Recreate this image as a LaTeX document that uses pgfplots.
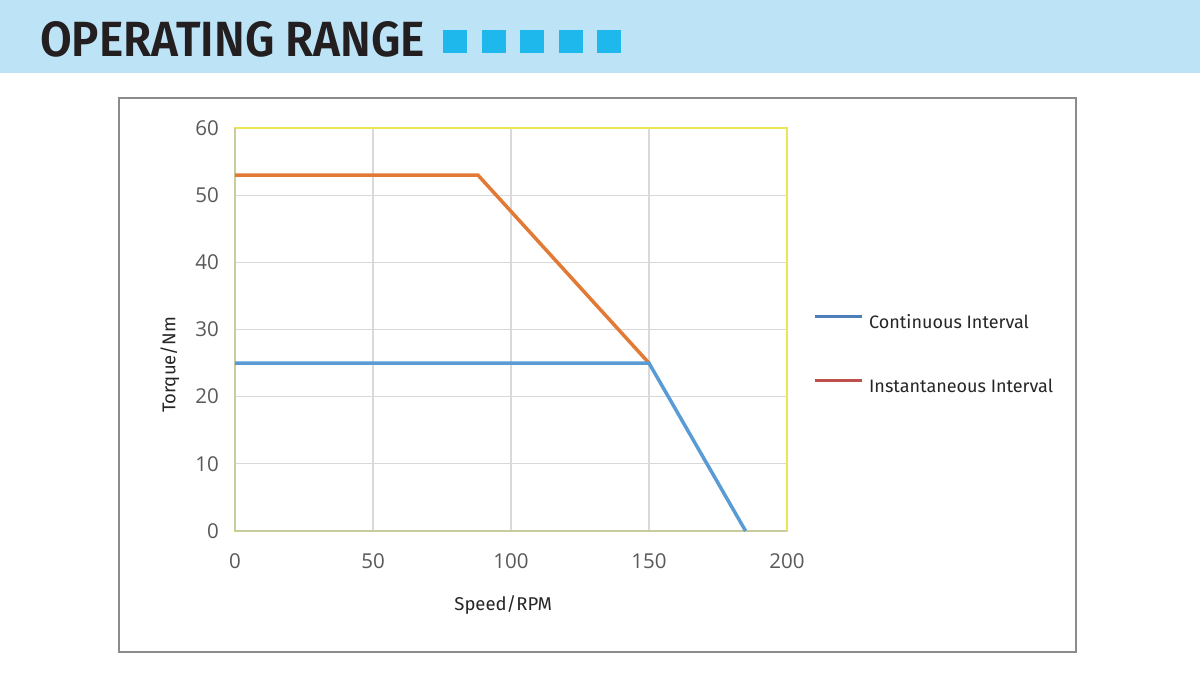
\documentclass[border=0pt]{standalone}
\usepackage{fontspec}
\setmainfont{Fira Sans}
\newfontfamily\tickfont{Open Sans}
\newfontfamily\titlefont{Fira Sans}[UprightFont={* SemiBold}]
\usepackage{pgfplots}
\pgfplotsset{compat=1.18}
\definecolor{banner}{HTML}{BDE3F7}
\definecolor{sq}{HTML}{1FB8EC}
\definecolor{titlecol}{HTML}{231F20}
\definecolor{boxgray}{HTML}{8C8C8C}
\definecolor{gridgray}{HTML}{D9D9D9}
\definecolor{ylw}{HTML}{E8E655}
\definecolor{olive}{HTML}{C8CC9C}
\definecolor{tickcol}{HTML}{595959}
\definecolor{labcol}{HTML}{262626}
\definecolor{serblue}{HTML}{5B9BD5}
\definecolor{serorange}{HTML}{E27A35}
\definecolor{legblue}{HTML}{4F7FB8}
\definecolor{legred}{HTML}{C0504D}
\begin{document}
\begin{tikzpicture}[x=1pt,y=1pt]
\fill[white] (0,0) rectangle (1200,693);
\fill[banner] (0,620) rectangle (1200,693);
\node[anchor=base west, inner sep=0pt, text=titlecol] at (40,636) {\resizebox{385pt}{35pt}{\titlefont OPERATING RANGE}};
\foreach \x in {443,481.5,520,558.5,597}
  \fill[sq] (\x,640) rectangle ++(24,23);
\draw[boxgray, line width=1.5pt] (119,41) rectangle (1076,595);
\begin{axis}[
  at={(235pt,162pt)}, anchor=south west,
  width=552pt, height=403pt, scale only axis,
  xmin=0, xmax=200, ymin=0, ymax=60,
  xtick={0,50,...,200}, ytick={0,10,...,60},
  grid=major, major grid style={gridgray, line width=1.3pt},
  tick style={draw=none},
  axis line style={ylw, line width=1.6pt},
  clip=false,
  /pgf/number format/assume math mode=true,
  ticklabel style={font=\tickfont\fontsize{20.5}{24}\selectfont, text=tickcol},
  xticklabel style={anchor=north, inner sep=0pt, yshift=-22pt},
  yticklabel style={anchor=east, inner sep=0pt, xshift=-16pt},
  xlabel={Speed/RPM}, ylabel={Torque/Nm},
  label style={font=\fontsize{18.5}{22}\selectfont, text=labcol},
  xlabel style={at={(axis description cs:0.486,-0.184)}, anchor=center},
  ylabel style={at={(axis description cs:-0.118,0.412)}, anchor=center, rotate=0},
  legend style={at={(1.047,0.439)}, anchor=west, draw=none, fill=none,
    inner sep=0pt, row sep=48.5pt, column sep=6pt,
    font=\fontsize{18}{21}\selectfont, text=labcol,
    nodes={inner sep=0pt}},
  legend cell align=left,
  legend image code/.code={\draw[#1, line width=3pt] (0pt,6.2pt) -- (47pt,6.2pt);},
]
\draw[olive, line width=1.6pt] (rel axis cs:0,0) -- (rel axis cs:1,0);
\draw[olive, line width=1.6pt] (rel axis cs:0,0) -- (rel axis cs:0,1);
\addplot[serorange, line width=3.5pt, forget plot] coordinates {(0,53) (88,53) (150,25)};
\addplot[serblue, line width=3.5pt, forget plot] coordinates {(0,25) (150,25) (185,0)};
\addlegendimage{legblue}
\addlegendentry{Continuous Interval}
\addlegendimage{legred}
\addlegendentry{Instantaneous Interval}
\end{axis}
\end{tikzpicture}
\end{document}
